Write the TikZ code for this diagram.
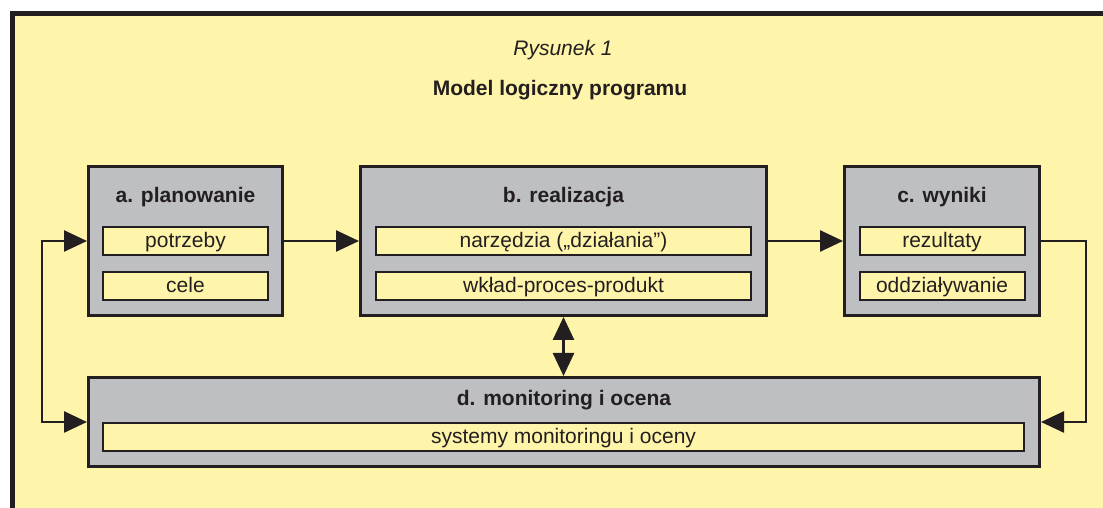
\documentclass[tikz,border=0pt]{standalone}
\usepackage{fontspec}
\setmainfont{Liberation Sans}
\usetikzlibrary{arrows.meta}
\definecolor{tlo}{RGB}{255,245,170}
\definecolor{szary}{RGB}{190,191,195}
\definecolor{linia}{RGB}{35,31,32}
\tikzset{
  duzy/.style={draw=linia, fill=szary, line width=1.5pt, minimum height=74.5pt, inner sep=0pt},
  maly/.style={draw=linia, fill=tlo, line width=1pt, minimum height=14pt, inner sep=0pt,
    text height=7.5pt, text depth=0.5pt, font=\fontsize{10.5}{12}\selectfont, text=linia},
  tytul/.style={font=\fontsize{10.5}{12}\selectfont\bfseries, text=linia},
  grot/.tip={Triangle[length=11.5pt,width=10.5pt]},
  strz/.style={line width=1.3pt, draw=linia, -grot},
  strzob/.style={line width=1.3pt, draw=linia, grot-grot},
}
\begin{document}
\begin{tikzpicture}[x=0.5pt,y=0.5pt]
\useasboundingbox (0,0) rectangle (1103,508);
\clip (0,0) rectangle (1103,508);
\fill[white] (0,0) rectangle (1103,508);
% ramka
\draw[line width=2.5pt, draw=linia, fill=tlo] (12,-20) rectangle (1130,494.5);

\node[font=\fontsize{10.5}{12}\selectfont\itshape, text=linia] (rys) at (563,458) {Rysunek 1};
\node[tytul] (model) at (560,418) {Model logiczny programu};

% a. planowanie
\node[duzy, minimum width=97pt] (boxA) at (185.5,267) {};
\node[tytul] (tytA) at (185.5,311) {a. planowanie};
\node[maly, minimum width=82.5pt] (potrz) at (185.5,267) {potrzeby};
\node[maly, minimum width=82.5pt] (cele) at (185.5,222) {cele};

% b. realizacja
\node[duzy, minimum width=203pt] (boxB) at (563.5,267) {};
\node[tytul] (tytB) at (563.5,311) {b. realizacja};
\node[maly, minimum width=187.5pt] (narz) at (563.5,267) {narzędzia („działania”)};
\node[maly, minimum width=187.5pt] (wklad) at (563.5,222) {wkład-proces-produkt};

% c. wyniki
\node[duzy, minimum width=97.5pt] (boxC) at (942,267) {};
\node[tytul] (tytC) at (942,311) {c. wyniki};
\node[maly, minimum width=82.5pt] (rez) at (942,267) {rezultaty};
\node[maly, minimum width=82.5pt] (oddz) at (942,222) {oddziaływanie};

% d. monitoring i ocena
\node[duzy, minimum width=475.5pt, minimum height=44.5pt] (boxD) at (564,86) {};
\node[tytul] (tytD) at (564,108) {d. monitoring i ocena};
\node[maly, minimum width=460.5pt] (syst) at (563.5,71) {systemy monitoringu i oceny};

% strzalki
\coordinate (lewy) at (42,0);
\coordinate (prawy) at (1086,0);
\draw[strz] (boxA.east) -- (boxB.west);
\draw[strz] (boxB.east) -- (boxC.west);
\draw[strz] (boxC.east) -- (boxC.east -| prawy) |- (boxD.east);
\draw[strzob] (boxA.west) -- (boxA.west -| lewy) |- (boxD.west);
\draw[strzob] (boxB.south) -- (boxB.south |- boxD.north);
\end{tikzpicture}
\end{document}
